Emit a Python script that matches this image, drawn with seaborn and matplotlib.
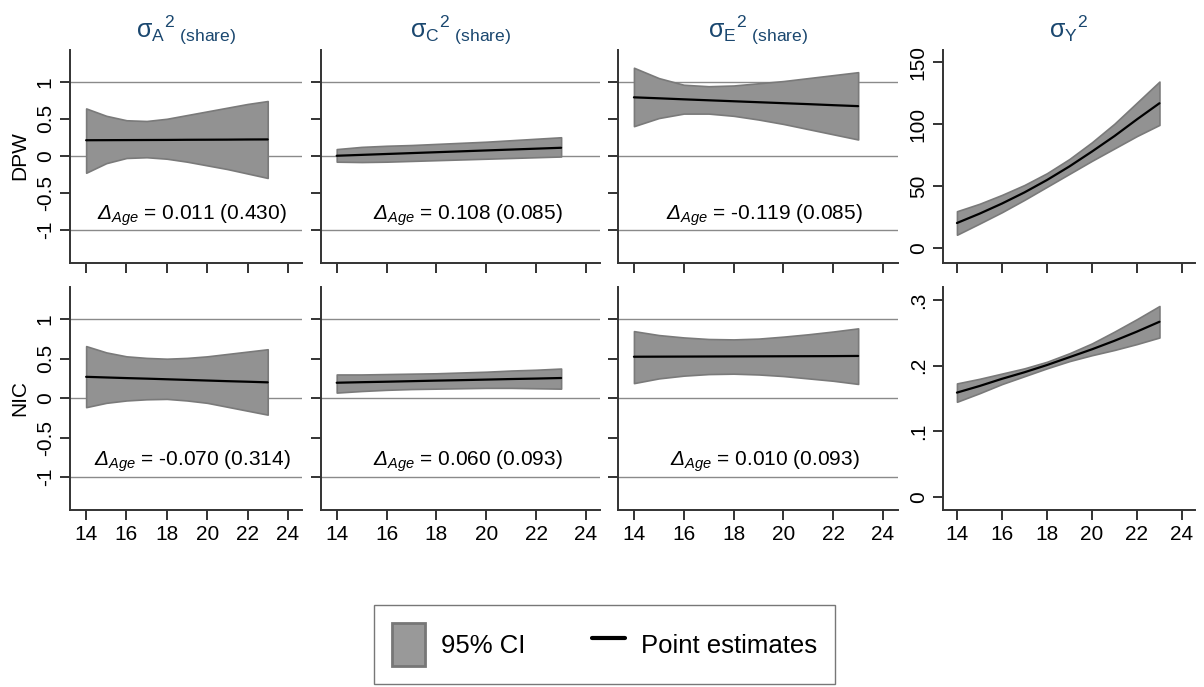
import numpy as np
import pandas as pd
import matplotlib
matplotlib.use("Agg")
import matplotlib.pyplot as plt
import seaborn as sns
from matplotlib.patches import Patch
from matplotlib.lines import Line2D

# ---------------- data ----------------
ages = [14, 15, 16, 17, 18, 19, 20, 21, 22, 23]

# DPW row
dpw_A_pt = [0.210, 0.211, 0.212, 0.213, 0.214, 0.216, 0.217, 0.218, 0.220, 0.221]
dpw_A_lo = [-0.23, -0.10, -0.03, -0.02, -0.04, -0.08, -0.13, -0.18, -0.24, -0.30]
dpw_A_hi = [0.64, 0.54, 0.48, 0.47, 0.50, 0.55, 0.60, 0.65, 0.70, 0.74]

dpw_C_pt = [0.000, 0.012, 0.024, 0.036, 0.048, 0.060, 0.072, 0.084, 0.096, 0.108]
dpw_C_lo = [-0.08, -0.085, -0.08, -0.07, -0.06, -0.05, -0.04, -0.03, -0.02, -0.01]
dpw_C_hi = [0.09, 0.12, 0.135, 0.145, 0.16, 0.175, 0.19, 0.21, 0.23, 0.25]

dpw_E_pt = [0.790, 0.777, 0.763, 0.750, 0.737, 0.724, 0.711, 0.698, 0.684, 0.671]
dpw_E_lo = [0.40, 0.51, 0.57, 0.57, 0.54, 0.49, 0.43, 0.36, 0.29, 0.22]
dpw_E_hi = [1.19, 1.05, 0.96, 0.94, 0.95, 0.98, 1.01, 1.05, 1.09, 1.13]

dpw_Y_pt = [20.3, 27.8, 36.0, 45.0, 55.0, 66.0, 78.0, 90.5, 104.0, 117.0]
dpw_Y_lo = [10.8, 19.8, 29.0, 39.0, 49.5, 60.0, 70.5, 80.5, 90.5, 99.5]
dpw_Y_hi = [29.8, 35.8, 43.0, 51.0, 60.5, 72.0, 85.5, 100.5, 117.5, 134.5]

# NIC row
nic_A_pt = [0.270, 0.262, 0.254, 0.247, 0.239, 0.231, 0.223, 0.215, 0.208, 0.200]
nic_A_lo = [-0.115, -0.06, -0.03, -0.015, -0.01, -0.03, -0.06, -0.11, -0.16, -0.21]
nic_A_hi = [0.66, 0.58, 0.53, 0.51, 0.50, 0.51, 0.53, 0.56, 0.59, 0.62]

nic_C_pt = [0.195, 0.202, 0.208, 0.215, 0.222, 0.228, 0.235, 0.242, 0.248, 0.255]
nic_C_lo = [0.07, 0.09, 0.105, 0.115, 0.12, 0.125, 0.13, 0.13, 0.125, 0.12]
nic_C_hi = [0.30, 0.30, 0.305, 0.31, 0.315, 0.325, 0.335, 0.35, 0.36, 0.375]

nic_E_pt = [0.525, 0.526, 0.527, 0.528, 0.529, 0.530, 0.531, 0.532, 0.533, 0.535]
nic_E_lo = [0.19, 0.25, 0.285, 0.305, 0.31, 0.30, 0.28, 0.25, 0.22, 0.18]
nic_E_hi = [0.85, 0.80, 0.77, 0.75, 0.745, 0.755, 0.78, 0.81, 0.845, 0.885]

nic_Y_pt = [0.159, 0.169, 0.180, 0.190, 0.201, 0.213, 0.225, 0.238, 0.252, 0.267]
nic_Y_lo = [0.145, 0.158, 0.172, 0.184, 0.196, 0.207, 0.216, 0.224, 0.233, 0.243]
nic_Y_hi = [0.173, 0.180, 0.188, 0.196, 0.206, 0.219, 0.234, 0.252, 0.271, 0.291]

row_labels = ["DPW", "NIC"]
col_titles = [r"$\mathrm{σ}_{\mathrm{A}}{}^{\mathrm{2}}{}_{\mathrm{\ (share)}}$",
              r"$\mathrm{σ}_{\mathrm{C}}{}^{\mathrm{2}}{}_{\mathrm{\ (share)}}$",
              r"$\mathrm{σ}_{\mathrm{E}}{}^{\mathrm{2}}{}_{\mathrm{\ (share)}}$",
              r"$\mathrm{σ}_{\mathrm{Y}}{}^{\mathrm{2}}$"]
delta_text = [["0.011 (0.430)", "0.108 (0.085)", "-0.119 (0.085)"],
              ["-0.070 (0.314)", "0.060 (0.093)", "0.010 (0.093)"]]

share_ticks = [-1, -0.5, 0, 0.5, 1]
share_ticklabels = ["-1", "-0.5", "0", "0.5", "1"]
ref_lines = [1, 0, -1]
dpw_Y_ticks = [0, 50, 100, 150]
dpw_Y_ticklabels = ["0", "50", "100", "150"]
nic_Y_ticks = [0, 0.1, 0.2, 0.3]
nic_Y_ticklabels = ["0", ".1", ".2", ".3"]
x_ticks = [14, 16, 18, 20, 22, 24]

series = [
    [(dpw_A_pt, dpw_A_lo, dpw_A_hi), (dpw_C_pt, dpw_C_lo, dpw_C_hi),
     (dpw_E_pt, dpw_E_lo, dpw_E_hi), (dpw_Y_pt, dpw_Y_lo, dpw_Y_hi)],
    [(nic_A_pt, nic_A_lo, nic_A_hi), (nic_C_pt, nic_C_lo, nic_C_hi),
     (nic_E_pt, nic_E_lo, nic_E_hi), (nic_Y_pt, nic_Y_lo, nic_Y_hi)],
]

# ---------------- style ----------------
sns.set_theme(style="white")
plt.rcParams["font.family"] = ["Liberation Sans", "DejaVu Sans"]
plt.rcParams["text.color"] = "black"
plt.rcParams["mathtext.fontset"] = "custom"
plt.rcParams["mathtext.rm"] = "Liberation Sans"
plt.rcParams["mathtext.it"] = "Liberation Sans:italic"
plt.rcParams["mathtext.sf"] = "Liberation Sans:italic"
plt.rcParams["mathtext.bf"] = "Liberation Sans:bold"

W, H = 1204, 687
fig = plt.figure(figsize=(W / 100, H / 100), dpi=100)
fig.patch.set_facecolor("white")

col_px = [(70, 302), (321, 600), (618, 898), (943, 1195)]
row_px = [(50, 263), (287, 510)]
xlims = [(13.2, 24.7), (13.37, 24.56), (13.36, 24.6), (13.38, 24.58)]
share_ylims = [(-1.45, 1.43), (-1.42, 1.41)]
Y_ylims = [(-12, 160), (-0.02, 0.32)]

band_face = "#929292"
band_edge = "#7a7a7a"
title_color = "#1a476f"
spine_color = "#333333"

for r in range(2):
    for c in range(4):
        x0, x1 = col_px[c]
        y0, y1 = row_px[r]
        ax = fig.add_axes([x0 / W, 1 - y1 / H, (x1 - x0) / W, (y1 - y0) / H])
        pt, lo, hi = series[r][c]
        df = pd.DataFrame({"age": ages, "pt": pt, "lo": lo, "hi": hi})
        if c < 3:
            for v in ref_lines:
                ax.axhline(v, color="#8a8a8a", lw=1.0, zorder=0)
        ax.fill_between(df["age"], df["lo"], df["hi"], facecolor=band_face,
                        edgecolor=band_edge, lw=1.2, zorder=1)
        sns.lineplot(data=df, x="age", y="pt", ax=ax, color="black", lw=1.6,
                     zorder=3, legend=False)
        ax.set_xlim(*xlims[c])
        ax.set_xticks(x_ticks)
        if c < 3:
            ax.set_ylim(*share_ylims[r])
            ax.set_yticks(share_ticks)
            if c == 0:
                ax.set_yticklabels(share_ticklabels, rotation=90, va="center")
            else:
                ax.set_yticklabels([])
            ax.text(19.25, -0.8, r"$\mathsf{Δ}_{\mathit{Age}}$ = " + delta_text[r][c],
                    ha="center", va="center", fontsize=15, color="black")
        else:
            ax.set_ylim(*Y_ylims[r])
            if r == 0:
                ax.set_yticks(dpw_Y_ticks)
                ax.set_yticklabels(dpw_Y_ticklabels, rotation=90, va="center")
            else:
                ax.set_yticks(nic_Y_ticks)
                ax.set_yticklabels(nic_Y_ticklabels, rotation=90, va="center")
        if r == 0:
            ax.set_xticklabels([])
            ax.set_title(col_titles[c], color=title_color, fontsize=18, pad=9)
        else:
            ax.set_xticklabels([str(t) for t in x_ticks])
        ax.set_xlabel("")
        ax.set_ylabel("")
        for s in ["top", "right"]:
            ax.spines[s].set_visible(False)
        for s in ["left", "bottom"]:
            ax.spines[s].set_color(spine_color)
            ax.spines[s].set_linewidth(1.4)
        ax.tick_params(axis="both", which="major", bottom=True, left=True,
                       direction="out", length=7, width=1.4,
                       color=spine_color, labelsize=15, labelcolor="black", pad=4)
        ax.set_facecolor("white")

# row labels
fig.text(20 / W, 1 - 156 / H, row_labels[0], rotation=90, ha="center", va="center",
         fontsize=15, color="black")
fig.text(20 / W, 1 - 398 / H, row_labels[1], rotation=90, ha="center", va="center",
         fontsize=15, color="black")

# legend
handles = [Patch(facecolor="#999999", edgecolor="#777777", lw=2.0, label="95% CI"),
           Line2D([0], [0], color="black", lw=3, label="Point estimates")]
leg = fig.legend(handles=handles, loc="center", bbox_to_anchor=(604.5 / W, 1 - 644.5 / H),
                 ncol=2, fontsize=18.5, handlelength=1.3, handleheight=2.2,
                 handletextpad=0.6, columnspacing=2.6, borderpad=0.7,
                 fancybox=False, frameon=True, labelcolor="black")
leg.get_frame().set_edgecolor("#555555")
leg.get_frame().set_linewidth(1.0)

fig.savefig("out.png", dpi=100, facecolor="white")
